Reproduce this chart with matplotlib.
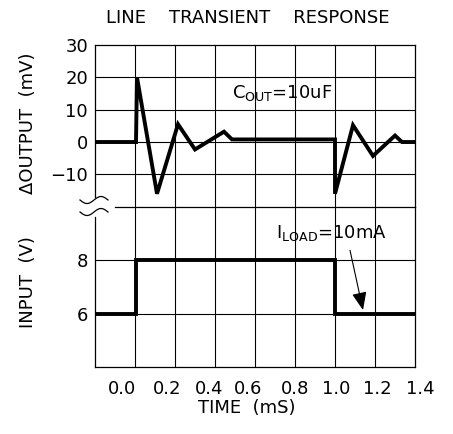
"""Line transient response: output deviation and input step vs. time."""
import matplotlib
matplotlib.use("Agg")
import matplotlib.pyplot as plt
import matplotlib.transforms as mtransforms
import numpy as np

# ---- data ---------------------------------------------------------------
time_out = [-0.2, 0.005, 0.01, 0.11, 0.215, 0.30, 0.445, 0.485, 1.0, 1.0,
            1.09, 1.19, 1.30, 1.335, 1.4]
dout_mv = [0, 0, 20, -16, 5.5, -2.3, 3.2, 0.8, 0.8, -16,
           5.2, -4.3, 2.0, 0, 0]

time_in = [-0.2, 0.005, 0.005, 1.0, 1.0, 1.4]
vin = [6, 6, 8, 8, 6, 6]

x_ticks = [0.0, 0.2, 0.4, 0.6, 0.8, 1.0, 1.2, 1.4]
x_labels = ["0.0", "0.2", "0.4", "0.6", "0.8", "1.0", "1.2", "1.4"]
# hand-lettered datasheet labels sit slightly off their gridlines (pixels)
x_label_shift = [-13, -7.5, -6, -7, 0, 1, 2.5, 5]
out_ticks = [30, 20, 10, 0, -10]
out_labels = ["30", "20", "10", "0", "\u221210"]
in_ticks = [8, 6]
in_labels = ["8", "6"]

W, H = 453, 434
FS = 13
LW = 2.8
GRID = dict(color="black", linewidth=0.8)


def fx(px):
    return px / W


def fy(py):
    return 1 - py / H


fig = plt.figure(figsize=(W / 100, H / 100), dpi=100)
left, right = 95, 415
top, mid, bot = 45, 206.7, 367
ax_o = fig.add_axes([fx(left), fy(mid), (right - left) / W, (mid - top) / H])
ax_i = fig.add_axes([fx(left), fy(bot), (right - left) / W, (bot - mid) / H])
ax_i.patch.set_visible(False)

for ax in (ax_o, ax_i):
    ax.set_xlim(-0.2, 1.4)
    ax.set_xticks([-0.2] + x_ticks)
    for x in x_ticks[:-1]:
        ax.axvline(x, **GRID, zorder=1)
    ax.tick_params(length=0, labelsize=FS, pad=5)
    for s in ax.spines.values():
        s.set_linewidth(0.9)

# upper panel: output deviation
ax_o.set_ylim(-20, 30)
ax_o.set_yticks(out_ticks, out_labels)
for y in out_ticks[1:]:
    ax_o.axhline(y, **GRID, zorder=1)
ax_o.spines["bottom"].set_visible(False)
ax_o.spines["left"].set_bounds(-17, 30)
ax_o.tick_params(axis="x", labelbottom=False)
ax_o.plot(time_out, dout_mv, color="black", linewidth=LW, zorder=3,
          solid_joinstyle="miter")
ax_o.text(0.485, 13.6, r"$\mathrm{C_{OUT}}$=10uF", fontsize=FS, va="baseline")

# lower panel: input voltage
ax_i.set_ylim(4, 10)
ax_i.set_yticks(in_ticks, in_labels)
for y in in_ticks:
    ax_i.axhline(y, **GRID, zorder=1)
ax_i.plot([-0.1, 1.4], [10, 10], color="black", linewidth=0.9, clip_on=False)
ax_i.spines["top"].set_visible(False)
ax_i.spines["left"].set_bounds(4, 9.6)
ax_i.set_xticks(x_ticks, x_labels)
ax_i.tick_params(axis="x", pad=9)
for lab, dx in zip(ax_i.get_xticklabels(), x_label_shift):
    lab.set_transform(lab.get_transform() + mtransforms.ScaledTranslation(
        dx / 100, 0, fig.dpi_scale_trans))
ax_i.plot(time_in, vin, color="black", linewidth=LW, zorder=3,
          solid_joinstyle="miter")
ax_i.text(0.705, 8.83, r"$\mathrm{I_{LOAD}}$=10mA", fontsize=FS, va="baseline")
ax_i.annotate("", xy=(1.14, 6.13), xytext=(1.075, 8.37),
              arrowprops=dict(arrowstyle="-|>,head_length=1.1,head_width=0.45",
                              color="black", linewidth=0.8, shrinkA=0, shrinkB=0))

# axis break symbol on the left edge
wx = np.linspace(80, 108, 40)
for yc in (200, 212):
    wy = yc + 3.5 * np.sin((wx - 80) / 28 * 2 * np.pi)
    fig.add_artist(plt.Line2D(fx(wx), fy(wy), color="black", linewidth=0.9,
                              transform=fig.transFigure))

fig.text(fx(248), fy(18), "LINE    TRANSIENT    RESPONSE", fontsize=FS,
         ha="center", va="center")
fig.text(fx(28), fy(123), "\u0394OUTPUT  (mV)", fontsize=FS, rotation=90,
         ha="center", va="center")
fig.text(fx(28), fy(282), "INPUT  (V)", fontsize=FS, rotation=90,
         ha="center", va="center")
fig.text(fx(247), fy(408), "TIME  (mS)", fontsize=FS, ha="center", va="center")

fig.savefig("out.png", dpi=100)
